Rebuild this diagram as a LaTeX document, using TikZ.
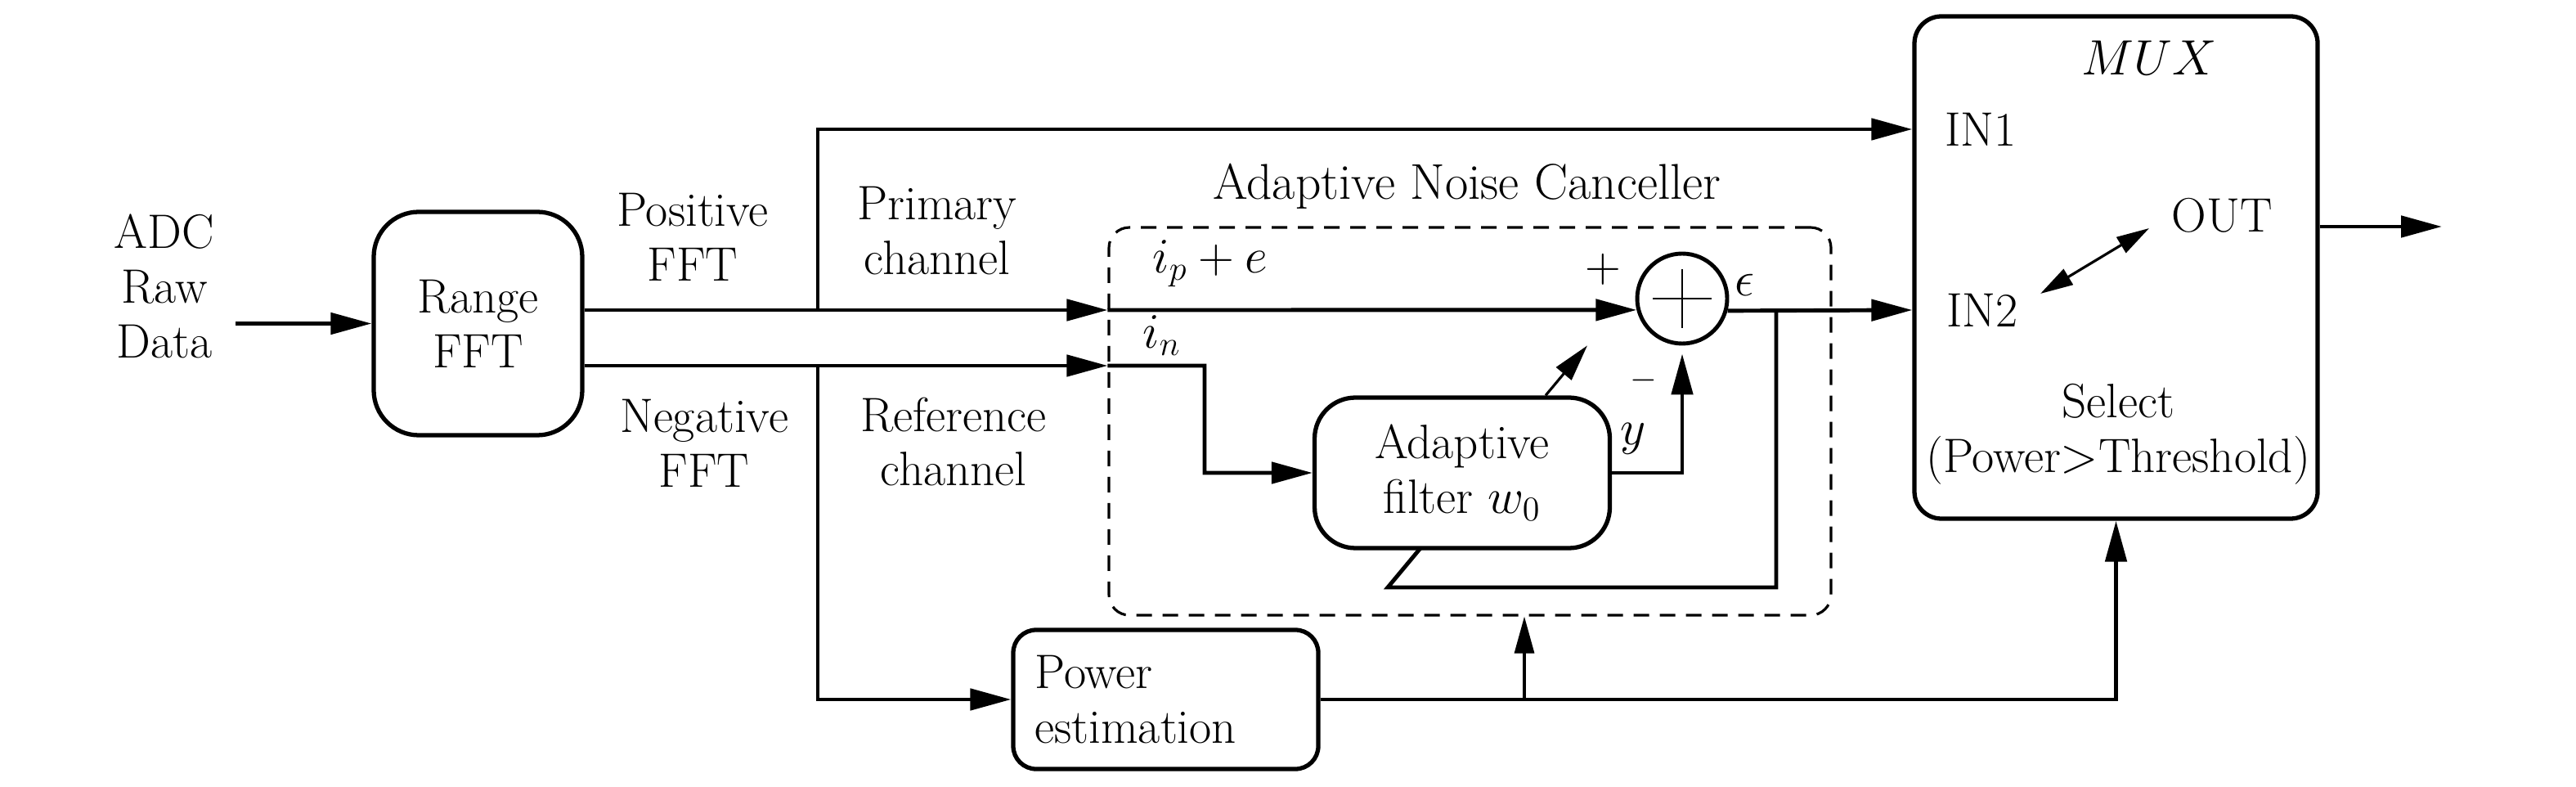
\documentclass[tikz,border=0pt]{standalone}
\usetikzlibrary{arrows.meta,calc}
\begin{document}
\begin{tikzpicture}[
  font=\fontsize{16.8}{19}\selectfont,
  line/.style={line width=1.4pt},
  arr/.style={line width=1.4pt,-{Triangle[length=0.5cm,width=0.26cm]}},
  thinarr/.style={line width=0.9pt,-{Triangle[length=0.45cm,width=0.24cm]}},
  dblarr/.style={line width=0.9pt,{Triangle[length=0.4cm,width=0.22cm]}-{Triangle[length=0.4cm,width=0.22cm]}},
  blk/.style={draw,line width=1.5pt,align=center,inner sep=0pt},
  lbl/.style={align=center,inner sep=0pt},
]
\useasboundingbox (0,0) rectangle (31.5,-9.62);

% blocks
\node[lbl] (adc) at (2.01,-3.50) {ADC\\Raw\\Data};
\node[blk,rounded corners=0.55cm,minimum width=2.55cm,minimum height=2.73cm] (range) at (5.845,-3.955) {Range\\FFT};
\node[draw,dashed,line width=0.9pt,dash pattern=on 0.19cm off 0.13cm,rounded corners=0.25cm,minimum width=8.83cm,minimum height=4.74cm] (anc) at (17.975,-5.15) {};
\node[blk,rounded corners=0.5cm,minimum width=3.61cm,minimum height=1.84cm] (adf) at (17.88,-5.78) {Adaptive\\filter $w_0$};
\node[blk,rounded corners=0.28cm,minimum width=3.73cm,minimum height=1.70cm,align=left,text width=3.2cm] (pow) at (14.255,-8.55) {Power\\estimation};
\node[blk,rounded corners=0.33cm,minimum width=4.93cm,minimum height=6.14cm] (mux) at (25.875,-3.27) {};
\node[draw,circle,line width=1.4pt,minimum size=1.10cm,inner sep=0pt] (sum) at (20.57,-3.65) {};
\draw[line width=0.8pt] ($(sum.center)+(-0.36,0)$) -- ($(sum.center)+(0.36,0)$);
\draw[line width=0.8pt] ($(sum.center)+(0,-0.36)$) -- ($(sum.center)+(0,0.36)$);

% labels
\node[lbl] (pos) at (8.47,-2.90) {Positive\\FFT};
\node[lbl] (neg) at (8.61,-5.42) {Negative\\FFT};
\node[lbl] (prim) at (11.46,-2.82) {Primary\\channel};
\node[lbl] (refc) at (11.66,-5.40) {Reference\\channel};
\node[lbl,font=\fontsize{17.5}{21}\selectfont] (title) at (17.94,-2.28) {Adaptive Noise Canceller};
\node[lbl] (ipe) at (14.80,-3.22) {$i_p + e$};
\node[lbl] (inl) at (14.21,-4.10) {$i_n$};
\node[lbl] (plus) at (19.60,-3.29) {$+$};
\node[lbl] (eps) at (21.33,-3.48) {$\epsilon$};
\node[lbl] (minus) at (20.10,-4.65) {$\scriptstyle -$};
\node[lbl] (ylab) at (19.97,-5.36) {$y$};
\node[lbl] (muxl) at (26.28,-0.71) {$MUX$};
\node[lbl] (in1) at (24.22,-1.58) {IN1};
\node[lbl] (outl) at (27.17,-2.63) {OUT};
\node[lbl] (in2) at (24.24,-3.79) {IN2};
\node[lbl] (sel) at (25.90,-5.31) {Select\\(Power$>$Threshold)};

% coordinates
\coordinate (adcin) at (2.88,-3.955);
\path (range.east) ++(0,0.165) coordinate (rp);
\path (range.east) ++(0,-0.515) coordinate (rn);
\coordinate (b1) at (10.00,-3.79);
\coordinate (b2) at (10.00,-4.47);
\coordinate (b3) at (18.64,-8.55);
\coordinate (fb) at (21.72,-3.79);
\coordinate (fbl) at (16.97,-7.18);
\coordinate (fbe) at (17.37,-6.70);
\coordinate (turn) at (14.73,-4.47);
\coordinate (oend) at (29.86,-2.77);
\coordinate (da) at (24.95,-3.59);
\coordinate (db) at (26.28,-2.79);

% connectors
\draw[arr] (adcin) -- (range.west);
\draw[arr] (rp) -- (rp -| anc.west);
\draw[arr] (rn) -- (rn -| anc.west);
\draw[arr] (rp -| anc.west) -- (sum.194.7);
\draw[arr] (rn -| anc.west) -- (turn) |- (adf.west);
\draw[arr] (b1) |- (mux.west |- in1);
\draw[arr] (b2) |- (pow.west);
\draw[arr] (pow.east) -| (mux.south);
\draw[thinarr] (b3) -- (b3 |- anc.south);
\draw[arr] (sum.345.3) -- (mux.west |- in2);
\draw[line] (fb) |- (fbl) -- (fbe);
\draw[thinarr] ($(adf.north)+(1.02,0)$) -- ++(0.51,0.61);
\draw[arr] (adf.east) -| ($(sum.south)+(0,-0.1)$);
\draw[arr] (mux.east |- oend) -- (oend);
\draw[dblarr] (da) -- (db);
\end{tikzpicture}
\end{document}
